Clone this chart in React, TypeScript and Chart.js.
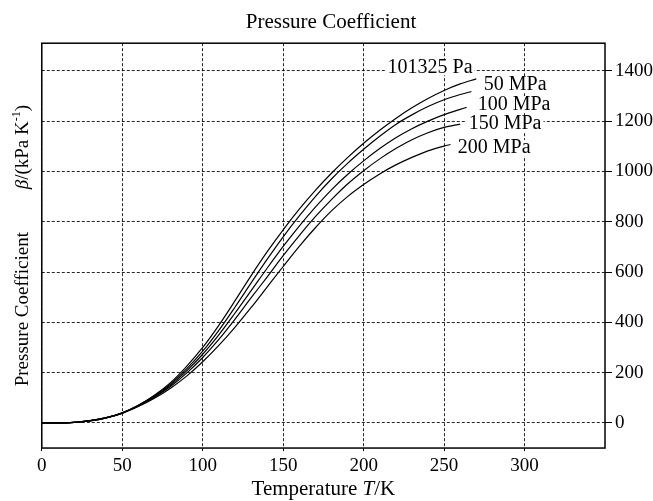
import React, { useEffect, useRef } from 'react';
import { Chart, registerables } from 'chart.js';

Chart.register(...registerables);

const FONT = "'Liberation Serif', 'Times New Roman', serif";

const chartTitle = 'Pressure Coefficient';
const xAxisTitle = 'Temperature T/K';
const yAxisTitle = 'Pressure Coefficient         \u03B2/(kPa K-1)';

const xTickValues = [0, 50, 100, 150, 200, 250, 300];
const yTickValues = [0, 200, 400, 600, 800, 1000, 1200, 1400];

const seriesNames = ['101325 Pa', '50 MPa', '100 MPa', '150 MPa', '200 MPa'];

const temps101325 = [0, 10, 20, 30, 40, 50, 60, 70, 80, 90, 100, 110, 120, 130, 140, 150, 160, 170, 180, 190, 200, 210, 220, 230, 240, 250, 260, 270];
const beta101325 = [0, 0, 2, 8, 20, 40, 70, 110, 160, 225, 300, 388, 485, 585, 680, 768, 850, 925, 993, 1055, 1112, 1164, 1211, 1253, 1290, 1322, 1348, 1368];

const temps50 = [0, 10, 20, 30, 40, 50, 60, 70, 80, 90, 100, 110, 120, 130, 140, 150, 160, 170, 180, 190, 200, 210, 220, 230, 240, 250, 260, 267];
const beta50 = [0, 0, 2, 8, 20, 40, 70, 108, 155, 215, 285, 368, 460, 556, 650, 740, 823, 900, 970, 1032, 1088, 1140, 1187, 1225, 1258, 1285, 1306, 1318];

const temps100 = [0, 10, 20, 30, 40, 50, 60, 70, 80, 90, 100, 110, 120, 130, 140, 150, 160, 170, 180, 190, 200, 210, 220, 230, 240, 250, 260, 264];
const beta100 = [0, 0, 2, 9, 20, 39, 68, 105, 150, 207, 273, 350, 436, 525, 615, 702, 783, 858, 927, 988, 1042, 1091, 1134, 1170, 1200, 1226, 1247, 1255];

const temps150 = [0, 10, 20, 30, 40, 50, 60, 70, 80, 90, 100, 110, 120, 130, 140, 150, 160, 170, 180, 190, 200, 210, 220, 230, 240, 250, 260];
const beta150 = [0, 0, 2, 9, 21, 39, 67, 102, 145, 198, 260, 332, 412, 497, 580, 665, 745, 820, 888, 950, 1003, 1050, 1091, 1126, 1154, 1175, 1188];

const temps200 = [0, 10, 20, 30, 40, 50, 60, 70, 80, 90, 100, 110, 120, 130, 140, 150, 160, 170, 180, 190, 200, 210, 220, 230, 240, 250, 254];
const beta200 = [0, 0, 2, 9, 21, 38, 65, 98, 138, 186, 243, 308, 380, 458, 540, 622, 702, 776, 843, 900, 948, 990, 1026, 1056, 1082, 1101, 1107];

const seriesTemps = [temps101325, temps50, temps100, temps150, temps200];
const seriesBeta = [beta101325, beta50, beta100, beta150, beta200];

const labelT = [214.9, 274.7, 270.9, 265.3, 258.5];
const labelBeta = [1414, 1343, 1267, 1188, 1093];

type Seg = { t: string; italic?: boolean; sup?: boolean };
const xTitleSegs: Seg[] = [{ t: 'Temperature ' }, { t: 'T', italic: true }, { t: '/K' }];
const yTitleSegs: Seg[] = [
  { t: 'Pressure Coefficient         ' },
  { t: '\u03B2', italic: true },
  { t: '/(kPa K' },
  { t: '-1', sup: true },
  { t: ')' },
];

function drawRich(ctx: any, segs: Seg[], size: number, cx: number, cy: number, rot: number) {
  const fontOf = (s: Seg) => `${s.italic ? 'italic ' : ''}${s.sup ? Math.round(size * 0.62) : size}px ${FONT}`;
  let total = 0;
  const widths = segs.map((s) => {
    ctx.font = fontOf(s);
    const w = ctx.measureText(s.t).width;
    total += w;
    return w;
  });
  ctx.save();
  ctx.translate(cx, cy);
  ctx.rotate(rot);
  ctx.fillStyle = '#000';
  ctx.textAlign = 'left';
  ctx.textBaseline = 'middle';
  let x = -total / 2;
  segs.forEach((s, i) => {
    ctx.font = fontOf(s);
    ctx.fillText(s.t, x, s.sup ? -size * 0.32 : 0);
    x += widths[i];
  });
  ctx.restore();
}

const framePlugin = {
  id: 'frameBox',
  afterDatasetsDraw(chart: any) {
    const { ctx, chartArea: a } = chart;
    ctx.save();
    ctx.strokeStyle = '#000';
    ctx.lineWidth = 1.5;
    ctx.strokeRect(a.left, a.top, a.right - a.left, a.bottom - a.top);
    ctx.restore();
  },
};

const richTitlePlugin = {
  id: 'richTitles',
  afterDraw(chart: any) {
    const { ctx, chartArea: a } = chart;
    const xs = chart.scales.x;
    const yl = chart.scales.yL;
    const xSize = 21;
    drawRich(ctx, xTitleSegs, xSize, (a.left + a.right) / 2, xs.bottom - xSize / 2, 0);
    const ySize = 19;
    const yLine = ySize * 1.2;
    drawRich(ctx, yTitleSegs, ySize, yl.left + 6 + yLine / 2, (a.top + a.bottom) / 2, -Math.PI / 2);
  },
};

const seriesLabelPlugin = {
  id: 'seriesLabels',
  afterDatasetsDraw(chart: any) {
    const { ctx } = chart;
    const xs = chart.scales.x;
    const ys = chart.scales.y;
    ctx.save();
    ctx.font = `20px ${FONT}`;
    ctx.textAlign = 'left';
    ctx.textBaseline = 'middle';
    seriesNames.forEach((name, i) => {
      const px = xs.getPixelForValue(labelT[i]);
      const py = ys.getPixelForValue(labelBeta[i]);
      const w = ctx.measureText(name).width;
      ctx.fillStyle = '#fff';
      ctx.fillRect(px - 2, py - 8, w + 4, 16);
      ctx.fillStyle = '#000';
      ctx.fillText(name, px, py);
    });
    ctx.restore();
  },
};

export default function App() {
  const canvasRef = useRef<HTMLCanvasElement | null>(null);

  useEffect(() => {
    const canvas = canvasRef.current;
    if (!canvas) return;
    const datasets = seriesNames.map((name, i) => ({
      label: name,
      data: seriesTemps[i].map((t, j) => ({ x: t, y: seriesBeta[i][j] })),
      borderColor: '#000',
      borderWidth: 1.2,
      pointRadius: 0,
      fill: false,
      cubicInterpolationMode: 'monotone' as const,
      yAxisID: 'y',
      xAxisID: 'x',
    }));

    const gridCommon = {
      color: 'rgba(0,0,0,0.85)',
      lineWidth: 1,
      tickColor: '#000',
      tickWidth: 1,
    };

    const chart = new Chart(canvas, {
      type: 'line',
      data: { datasets },
      plugins: [framePlugin, seriesLabelPlugin, richTitlePlugin],
      options: {
        animation: false,
        responsive: false,
        devicePixelRatio: 1,
        layout: { padding: { left: 6, right: -3, top: 0, bottom: 1 } },
        plugins: {
          legend: { display: false },
          tooltip: { enabled: false },
          title: {
            display: true,
            text: chartTitle,
            color: '#000',
            font: { family: FONT, size: 21, weight: 'normal', lineHeight: 1.2 },
            padding: { top: 10, bottom: 8 },
          },
        },
        scales: {
          x: {
            type: 'linear',
            position: 'bottom',
            min: 0,
            max: 350,
            afterBuildTicks: (scale: any) => {
              scale.ticks = xTickValues.map((v) => ({ value: v }));
            },
            grid: { ...gridCommon, tickLength: 5, tickBorderDash: [3, 2] },
            border: { display: false, dash: [3, 2] },
            ticks: {
              color: '#000',
              padding: 3,
              maxRotation: 0,
              font: { family: FONT, size: 19, lineHeight: 1.05 },
              callback: (v: any) => String(v),
            },
            title: {
              display: true,
              text: xAxisTitle,
              color: 'rgba(0,0,0,0)',
              font: { family: FONT, size: 21, lineHeight: 1.0 },
              padding: { top: 0, bottom: 0 },
            },
          },
          y: {
            type: 'linear',
            position: 'right',
            min: -100,
            max: 1510,
            afterBuildTicks: (scale: any) => {
              scale.ticks = yTickValues.map((v) => ({ value: v }));
            },
            grid: { ...gridCommon, tickLength: 7 },
            border: { display: false, dash: [3, 2] },
            ticks: {
              color: '#000',
              padding: 3,
              font: { family: FONT, size: 19, lineHeight: 1.2 },
              callback: (v: any) => String(v),
            },
          },
          yL: {
            type: 'linear',
            position: 'left',
            min: -100,
            max: 1510,
            grid: { display: false, drawTicks: false },
            border: { display: false },
            ticks: { display: false },
            title: {
              display: true,
              text: yAxisTitle,
              color: 'rgba(0,0,0,0)',
              font: { family: FONT, size: 19, lineHeight: 1.2 },
              padding: { top: 6, bottom: 7 },
            },
          },
        },
      },
    });
    return () => chart.destroy();
  }, []);

  return (
    <div style={{ position: 'fixed', left: 0, top: 0, width: 653, height: 501, background: '#fff' }}>
      <canvas ref={canvasRef} width={653} height={501} />
    </div>
  );
}
